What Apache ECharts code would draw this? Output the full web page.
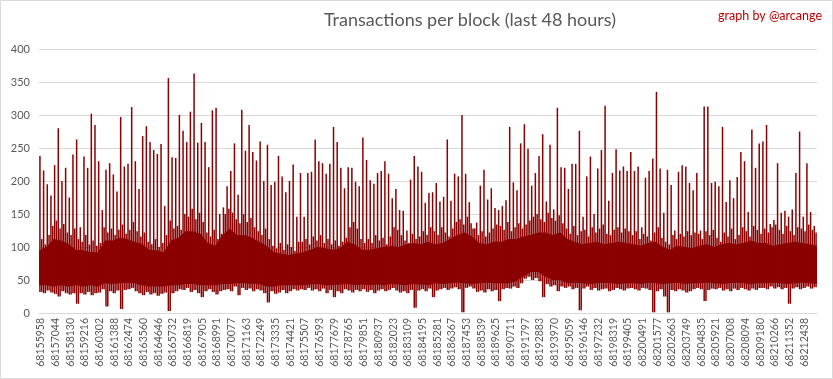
<!DOCTYPE html>
<html><head><meta charset="utf-8">
<script src="https://cdn.jsdelivr.net/npm/echarts@6/dist/echarts.min.js"></script>
<style>html,body{margin:0;padding:0;background:#fff}#c{width:833px;height:379px}</style>
</head><body><div id="c"></div>
<script>
// Tick labels on the category axis (block numbers)
const tickLabels = [68155958,68157044,68158130,68159216,68160302,68161388,68162474,68163560,68164646,68165732,
68166819,68167905,68168991,68170077,68171163,68172249,68173335,68174421,68175507,68176593,
68177679,68178765,68179851,68180937,68182023,68183109,68184195,68185281,68186367,68187453,
68188539,68189625,68190711,68191797,68192883,68193970,68195059,68196146,68197232,68198319,
68199405,68200491,68201577,68202663,68203749,68204835,68205921,68207008,68208094,68209180,
68210266,68211352,68212438];

// Per-slice highest transactions-per-block value
const sliceHigh = [238,216,195,178,224,280,200,220,175,240,263,130,237,220,302,285,230,
156,217,227,210,184,297,222,226,312,230,188,268,283,259,247,241,256,162,
356,236,235,300,276,259,305,363,258,288,259,221,307,311,150,160,192,215,
257,179,308,246,285,244,231,260,200,255,194,199,238,207,183,200,225,146,
212,146,212,214,263,230,227,211,226,282,259,220,189,221,220,199,192,266,
232,201,196,212,215,230,211,174,188,156,155,125,202,238,222,214,167,182,
183,197,169,176,263,170,211,207,300,211,168,128,137,193,217,172,189,159,
156,162,171,282,198,186,257,286,249,193,212,238,271,169,255,157,311,221,
220,188,226,226,276,146,207,237,150,219,247,314,170,212,248,216,222,215,
244,215,222,130,205,215,234,335,219,152,217,194,125,214,224,222,197,186,
212,125,313,313,197,199,192,282,168,201,174,206,244,230,153,278,220,257,
260,285,135,141,227,152,155,146,157,212,275,146,227,153,132];

// Per-slice second-highest value (top of the dense fringe)
const sliceMid = [112,104,118,132,140,128,135,122,118,128,112,108,118,104,110,102,106,
130,122,128,118,126,134,120,126,138,124,116,122,108,104,112,100,106,118,
140,128,132,126,150,146,158,142,152,138,122,116,126,112,120,150,158,152,
142,136,150,138,144,130,124,118,128,112,102,98,106,96,104,100,94,108,
108,112,104,116,110,118,106,112,104,110,102,108,114,130,138,128,112,106,
112,106,118,110,114,104,116,130,126,118,110,106,120,112,116,124,118,130,
124,118,130,122,116,128,138,142,134,146,136,128,118,124,116,122,128,134,
132,126,138,124,130,136,128,134,140,146,150,142,138,152,144,140,148,136,
128,120,132,118,124,126,116,130,122,128,134,120,118,126,130,122,128,124,
118,124,112,120,116,110,122,130,114,108,104,118,112,120,116,124,118,122,
120,112,124,118,126,114,108,122,116,128,112,118,130,124,116,132,126,120,
128,122,130,134,126,120,132,124,118,130,128,124,134,126,122];

// Per-slice lowest transactions-per-block value
const sliceLow = [32,30,34,31,29,25,33,30,28,30,14,30,28,32,27,30,31,
36,10,33,30,34,6,35,36,38,33,30,27,32,28,30,26,29,31,
3,30,33,36,35,38,32,35,30,24,33,36,32,28,33,35,36,33,
40,27,38,35,37,33,36,34,30,16,33,29,31,35,30,33,36,34,
36,35,38,34,36,33,37,30,35,24,33,30,36,34,31,35,33,36,
32,35,30,34,36,33,35,38,34,31,33,30,35,8,34,36,33,37,
24,34,36,38,35,37,39,36,1,38,40,37,32,34,31,36,33,35,
18,36,38,37,40,38,45,52,55,50,53,48,24,44,40,42,33,40,
38,40,36,38,4,37,40,35,38,34,36,37,33,35,38,36,34,37,
38,36,34,38,37,35,1,33,36,25,1,35,33,36,34,31,33,36,
38,36,18,35,37,36,38,34,36,33,37,35,38,36,34,37,35,38,
38,36,40,37,39,36,38,14,37,39,36,38,40,37,39];

// Solid core of the band (where most blocks fall), every half tick interval
const coreTop = [95,100,112,110,105,96,95,92,92,
110,110,114,112,108,105,96,95,92,
110,114,124,124,120,106,102,118,128,
118,118,114,108,102,92,90,88,90,
92,96,100,98,96,98,108,104,96,
96,98,100,102,100,104,106,104,108,
104,106,112,118,122,116,106,104,108,
108,112,112,116,118,122,122,118,122,
112,108,104,106,108,104,106,108,106,
104,102,106,108,100,96,102,100,98,
102,104,100,104,106,104,106,110,106,
106,102,104,106,108,106,104,102];
const coreBottom = [42,42,40,42,40,42,40,42,40,
45,44,45,46,45,42,40,40,40,
42,42,44,44,42,42,42,44,44,
45,45,44,44,40,40,42,42,42,
42,43,44,42,42,43,44,42,43,
42,43,42,44,43,42,44,43,42,
45,44,45,46,45,44,45,46,45,
45,45,48,55,62,62,55,50,50,
45,46,45,44,45,46,45,44,45,
45,44,46,45,44,45,46,44,45,
45,46,45,44,45,46,45,44,45,
45,46,45,44,45,46,45,44];

const yTicks = {min: 0, max: 400, step: 50};

// Build the tables the library needs
const PER_TICK = 4;
const categories = sliceHigh.map((_, j) => {
  const i = Math.floor(j / PER_TICK), r = j % PER_TICK;
  const base = tickLabels[Math.min(i, tickLabels.length - 1)];
  const next = i + 1 < tickLabels.length ? tickLabels[i + 1] : base + 1086;
  return String(base + Math.round(r * (next - base) / PER_TICK));
});
const highSpan = sliceHigh.map((h, k) => h - sliceLow[k]);
const midSpan = sliceMid.map((m, k) => m - sliceLow[k]);
const coreCats = coreTop.map((_, h) => 'h' + h);
const coreSpan = coreTop.map((t, h) => t - coreBottom[h]);

const RED = '#8b0000';
const CLEAR = 'rgba(0,0,0,0)';
const FONT = 'Lato, "Liberation Sans", sans-serif';
const BW = 1.5;
const chart = echarts.init(document.getElementById('c'), null, {renderer: 'canvas'});
chart.setOption({
  animation: false,
  backgroundColor: '#ffffff',
  grid: {left: 39, right: 16, top: 49, bottom: 66, containLabel: false},
  xAxis: [{
    type: 'category', data: categories, boundaryGap: true,
    axisLine: {show: true, lineStyle: {color: '#d9d9d9', width: 1}},
    axisTick: {show: false},
    splitLine: {show: false},
    axisLabel: {interval: PER_TICK - 1, rotate: 90, color: '#595959', fontFamily: FONT, fontSize: 10.5, margin: 5}
  }, {
    type: 'category', data: coreCats, boundaryGap: false, show: false, position: 'bottom'
  }],
  yAxis: {
    type: 'value', min: yTicks.min, max: yTicks.max, interval: yTicks.step,
    axisLine: {show: false}, axisTick: {show: false},
    splitLine: {lineStyle: {color: '#d9d9d9', width: 1}},
    axisLabel: {color: '#595959', fontFamily: FONT, fontSize: 11, margin: 9}
  },
  series: [
    {type: 'line', xAxisIndex: 1, data: coreBottom, stack: 'core', symbol: 'none',
     lineStyle: {width: 0, opacity: 0}, areaStyle: {opacity: 0}, z: 2},
    {type: 'line', xAxisIndex: 1, data: coreSpan, stack: 'core', symbol: 'none',
     lineStyle: {width: 0, opacity: 0}, areaStyle: {color: RED, opacity: 1}, z: 2},
    {type: 'bar', xAxisIndex: 0, data: sliceLow, stack: 'high', barWidth: BW, barGap: '20%',
     itemStyle: {color: CLEAR}, z: 3},
    {type: 'bar', xAxisIndex: 0, data: highSpan, stack: 'high', barWidth: BW, barGap: '20%',
     itemStyle: {color: RED}, z: 3},
    {type: 'bar', xAxisIndex: 0, data: sliceLow, stack: 'mid', barWidth: BW, barGap: '20%',
     itemStyle: {color: CLEAR}, z: 3},
    {type: 'bar', xAxisIndex: 0, data: midSpan, stack: 'mid', barWidth: BW, barGap: '20%',
     itemStyle: {color: RED}, z: 3}
  ],
  graphic: [
    {type: 'rect', shape: {x: 0.5, y: 0.5, width: 832, height: 378}, style: {fill: 'none', stroke: '#d9d9d9', lineWidth: 1}, silent: true},
    {type: 'text', x: 470, y: 20, style: {text: 'Transactions per block (last 48 hours)', fill: '#595959', font: '18px ' + FONT, textAlign: 'center', textVerticalAlign: 'middle'}},
    {type: 'text', x: 822, y: 16, style: {text: 'graph by @arcange', fill: '#c00000', font: '12.5px ' + FONT, textAlign: 'right', textVerticalAlign: 'middle'}}
  ]
});
</script></body></html>
